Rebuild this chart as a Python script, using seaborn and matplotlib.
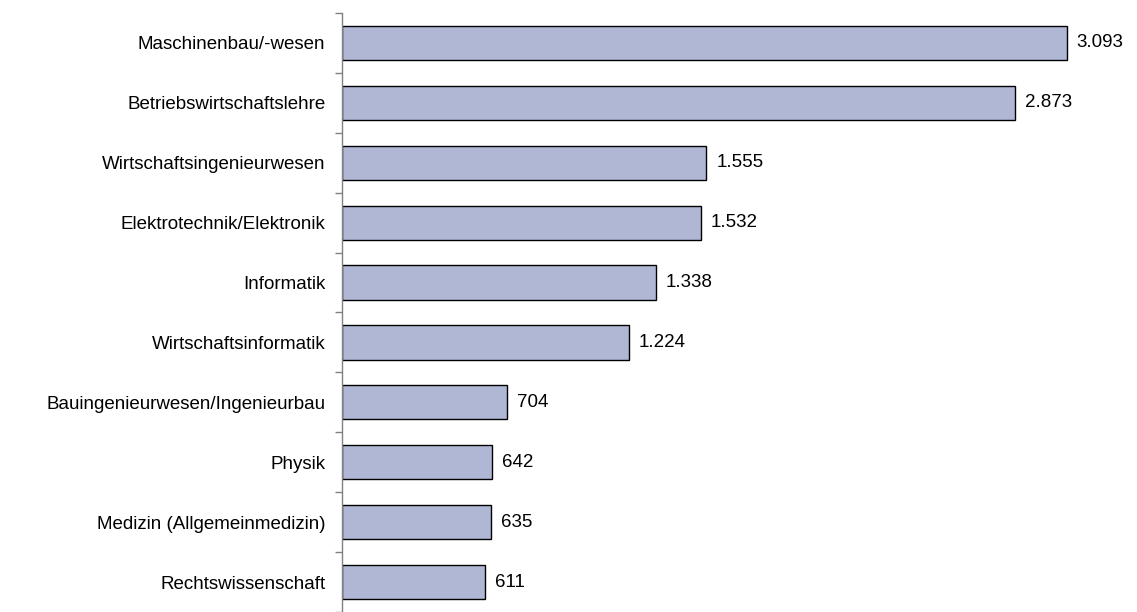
import pandas as pd
import matplotlib.pyplot as plt
import seaborn as sns
from matplotlib.ticker import FixedLocator

# Data
fields = [
    'Maschinenbau/-wesen',
    'Betriebswirtschaftslehre',
    'Wirtschaftsingenieurwesen',
    'Elektrotechnik/Elektronik',
    'Informatik',
    'Wirtschaftsinformatik',
    'Bauingenieurwesen/Ingenieurbau',
    'Physik',
    'Medizin (Allgemeinmedizin)',
    'Rechtswissenschaft',
]
counts = [3093, 2873, 1555, 1532, 1338, 1224, 704, 642, 635, 611]

df = pd.DataFrame({'field': fields, 'count': counts})

sns.set_style("white")
plt.rcParams['font.family'] = ['Liberation Sans', 'DejaVu Sans']

fig = plt.figure(figsize=(11.37, 6.12), dpi=100)
ax = fig.add_axes([342 / 1137, 0.0, 1 - 342 / 1137, 1 - 13 / 612])

sns.barplot(data=df, y='field', x='count', orient='h', color='#B0B7D4',
            edgecolor='black', linewidth=1.0, width=0.57, saturation=1, ax=ax)

ax.set_xlim(0, 3392)
ax.set_ylim(len(fields) - 0.5, -0.5)
ax.set_xlabel('')
ax.set_ylabel('')
ax.set_xticks([])

# value labels with German thousands separator
for i, v in enumerate(counts):
    ax.text(v + 42, i, f'{v:,}'.replace(',', '.'), va='center', ha='left',
            fontsize=13.5, color='black')

ax.tick_params(axis='y', which='major', left=False, length=0, pad=12,
               labelsize=13.5, labelcolor='black')
ax.yaxis.set_minor_locator(FixedLocator([i - 0.5 for i in range(len(fields) + 1)]))
ax.tick_params(axis='y', which='minor', left=True, length=5, width=1,
               color='#808080', direction='out')

for side in ['top', 'right', 'bottom']:
    ax.spines[side].set_visible(False)
ax.spines['left'].set_color('#808080')
ax.spines['left'].set_linewidth(1.0)

fig.savefig('out.png', dpi=100)
